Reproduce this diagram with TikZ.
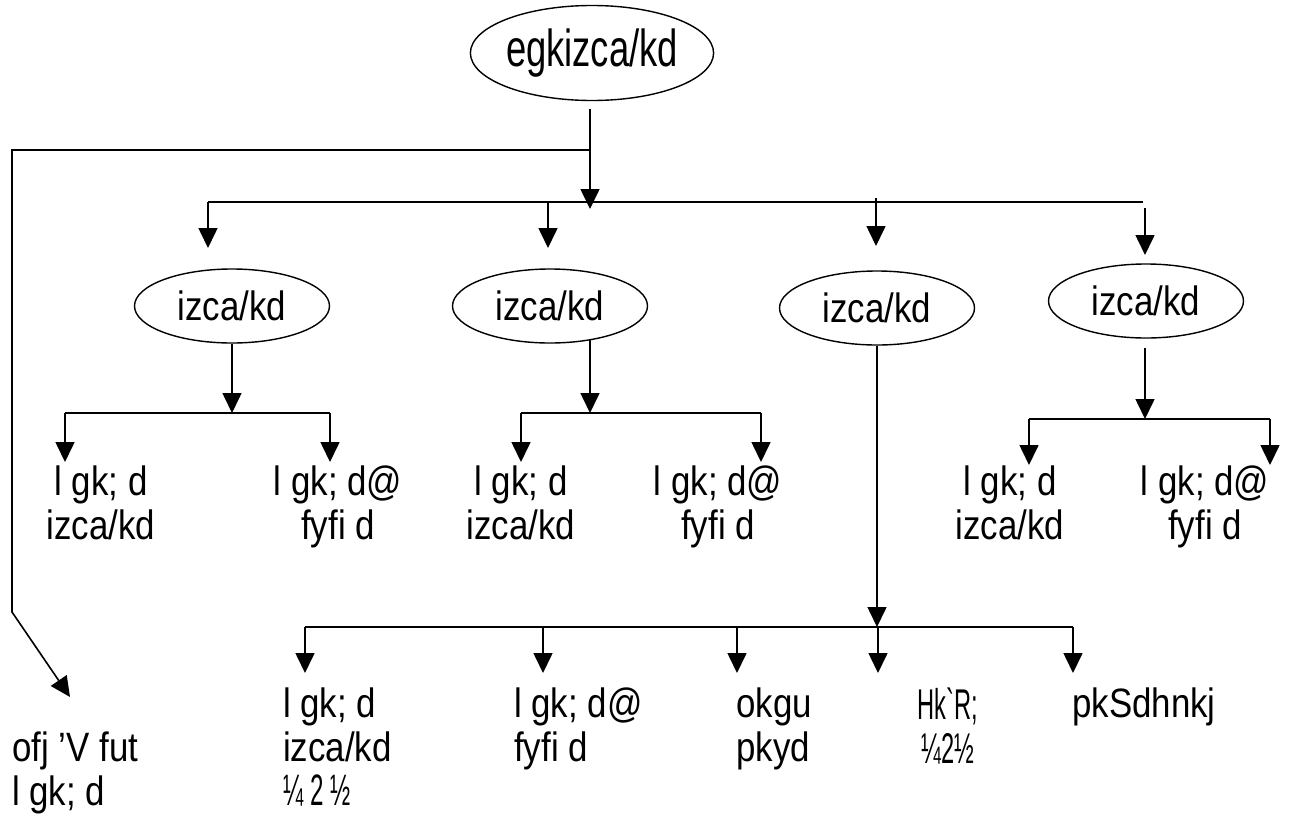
\documentclass[tikz,border=0pt]{standalone}
\usepackage{fontspec}
\setmainfont{Liberation Sans}[FakeStretch=0.85]
\newfontfamily\titlefont{Liberation Sans}[FakeStretch=0.7]
\newfontfamily\narrowfont{Liberation Sans}[FakeStretch=0.55]
\usetikzlibrary{shapes,arrows.meta}

\begin{document}
\begin{tikzpicture}[x=1pt,y=-1pt,
  every node/.style={font=\fontsize{41}{44}\selectfont},
  post/.style={draw,shape=ellipse,line width=1.4pt,minimum width=195pt,minimum height=74pt,inner sep=0pt},
  staff/.style={inner sep=0pt,anchor=north,align=center},
  link/.style={line width=1.6pt},
  drop/.style={line width=1.6pt,-{Triangle[width=19pt,length=20pt]}}]
\useasboundingbox (0,0) rectangle (1298,822);

\node (genmgr) at (592,53) [post,minimum width=241pt,minimum height=95pt,font=\titlefont\fontsize{52}{54}\selectfont] {egkizca/kd};

\node (mgra) at (232,306) [post] {izca/kd};
\node (mgrb) at (550,306) [post] {izca/kd};
\node (mgrc) at (877,308) [post] {izca/kd};
\node (mgrd) at (1146,301) [post] {izca/kd};

\node (asstmgra) at (101,466) [staff] {l gk; d\\izca/kd};
\node (asstclka) at (338,466) [staff] {l gk; d@\\fyfi d};
\node (asstmgrb) at (521,466) [staff] {l gk; d\\izca/kd};
\node (asstclkb) at (718,466) [staff] {l gk; d@\\fyfi d};
\node (asstmgrd) at (1010,466) [staff] {l gk; d\\izca/kd};
\node (asstclkd) at (1205,466) [staff] {l gk; d@\\fyfi d};

\node (asstmgrc) at (283,688) [staff,anchor=north west,align=left] {l gk; d\\izca/kd\\{\narrowfont\fontsize{44}{44}\selectfont ¼ 2 ½}};
\node (asstclkc) at (514,688) [staff,anchor=north west,align=left] {l gk; d@\\fyfi d};
\node (driver) at (736,688) [staff,anchor=north west,align=left] {okgu\\pkyd};
\node (peon) at (948,688) [staff,font=\narrowfont\fontsize{43}{44}\selectfont] {Hk`R;\\¼2½};
\node (guard) at (1072,688) [staff,anchor=north west] {pkSdhnkj};
\node (senpa) at (12,732) [staff,anchor=north west,align=left] {ofj 'V fut\\l gk; d};

% top level
\coordinate (gmout) at (590,109);
\coordinate (gmsplit) at (590,150);
\coordinate (hubtip) at (590,209);
\coordinate (leftturn) at (12,150);
\coordinate (leftdown) at (12,612);
\coordinate (patip) at (70,697);
\coordinate (ha) at (208,202);
\coordinate (hb) at (548,202);
\coordinate (hc) at (876,198);
\coordinate (hd) at (1145,208);
\coordinate (he) at (1143,202);
\coordinate (ta) at (208,248);
\coordinate (tb) at (548,248);
\coordinate (tc) at (876,246);
\coordinate (td) at (1145,255);

\draw [drop] (gmout) -- (hubtip);
\draw [drop] (gmsplit) -- (leftturn) -- (leftdown) -- (patip);
\draw [link] (ha) -- (he);
\draw [drop] (ha) -- (ta);
\draw [drop] (hb) -- (tb);
\draw [drop] (hc) -- (tc);
\draw [drop] (hd) -- (td);

% first manager
\coordinate (sa) at (232,413);
\coordinate (saw) at (65,413);
\coordinate (sae) at (330,413);
\coordinate (saw2) at (65,462);
\coordinate (sae2) at (330,462);
\draw [drop] (mgra.south) -- (sa);
\draw [link] (saw) -- (sae);
\draw [drop] (saw) -- (saw2);
\draw [drop] (sae) -- (sae2);

% second manager
\coordinate (mbout) at (590,339);
\coordinate (sb) at (590,413);
\coordinate (sbw) at (521,413);
\coordinate (sbe) at (761,413);
\coordinate (sbw2) at (521,462);
\coordinate (sbe2) at (761,462);
\draw [drop] (mbout) -- (sb);
\draw [link] (sbw) -- (sbe);
\draw [drop] (sbw) -- (sbw2);
\draw [drop] (sbe) -- (sbe2);

% fourth manager
\coordinate (mdout) at (1145,348);
\coordinate (sd) at (1145,419);
\coordinate (sdw) at (1029,419);
\coordinate (sde) at (1270,419);
\coordinate (sdw2) at (1029,465);
\coordinate (sde2) at (1270,465);
\draw [drop] (mdout) -- (sd);
\draw [link] (sdw) -- (sde);
\draw [drop] (sdw) -- (sdw2);
\draw [drop] (sde) -- (sde2);

% third manager
\coordinate (sc) at (877,627);
\coordinate (sc1) at (305,627);
\coordinate (sc2) at (543,627);
\coordinate (sc3) at (737,627);
\coordinate (sc4) at (878,627);
\coordinate (sc5) at (1073,627);
\coordinate (tc1) at (305,673);
\coordinate (tc2) at (543,673);
\coordinate (tc3) at (737,673);
\coordinate (tc4) at (878,673);
\coordinate (tc5) at (1073,673);
\draw [drop] (mgrc.south) -- (sc);
\draw [link] (sc1) -- (sc5);
\draw [drop] (sc1) -- (tc1);
\draw [drop] (sc2) -- (tc2);
\draw [drop] (sc3) -- (tc3);
\draw [drop] (sc4) -- (tc4);
\draw [drop] (sc5) -- (tc5);
\end{tikzpicture}
\end{document}
